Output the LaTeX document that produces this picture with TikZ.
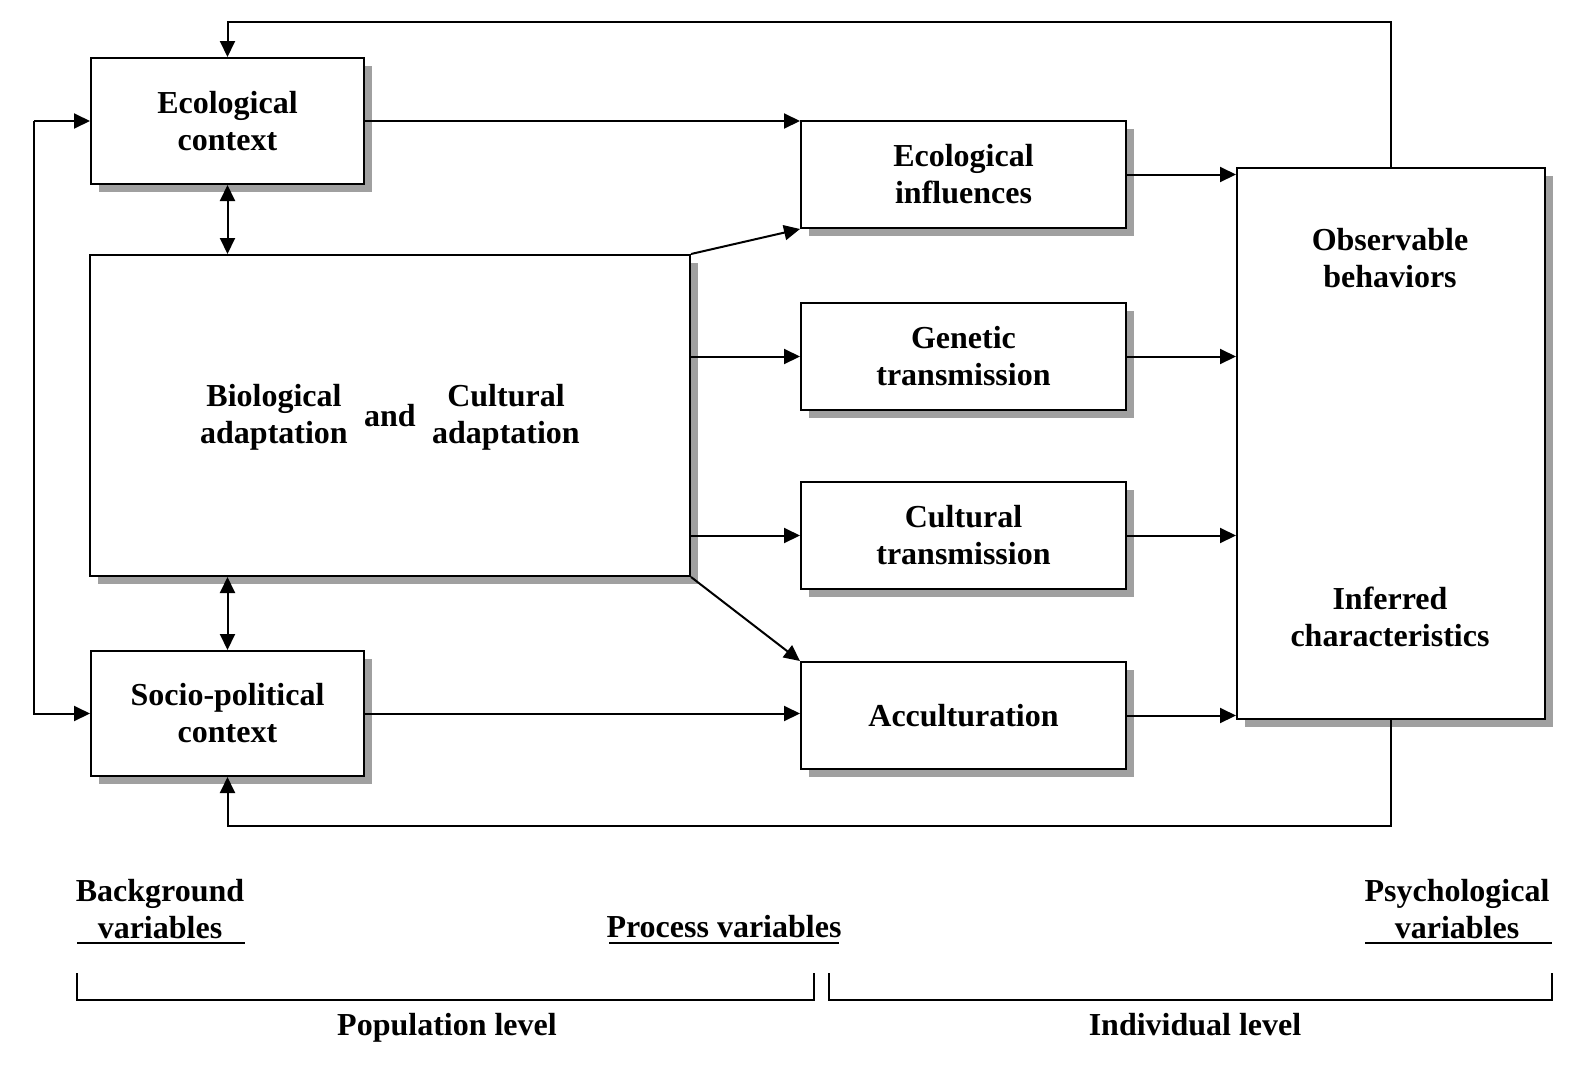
\documentclass[tikz,border=0pt]{standalone}
\usepackage{fontspec}
\setmainfont{Liberation Serif}
\usetikzlibrary{arrows.meta,shadows}
\definecolor{shadowgray}{RGB}{160,160,160}
\begin{document}
\begin{tikzpicture}[x=0.5pt,y=-0.5pt,
  font=\fontsize{16}{18.5}\selectfont\bfseries,
  box/.style={draw,line width=1pt,fill=white,inner sep=0pt,align=center,
    drop shadow={shadow xshift=4pt,shadow yshift=-4pt,opacity=1,fill=shadowgray}},
  arr/.style={line width=1pt,-{Triangle[length=8pt,width=7.5pt]}},
  arrr/.style={line width=1pt,{Triangle[length=8pt,width=7.5pt]}-{Triangle[length=8pt,width=7.5pt]}},
  txt/.style={align=center,inner sep=0pt},
  thin/.style={line width=1pt}]
\useasboundingbox (0,0) rectangle (1596,1082);
% boxes
\node[box,minimum width=136.5pt,minimum height=63pt] (ecoc) at (227.5,121) {Ecological\\context};
\node[box,minimum width=300pt,minimum height=160.5pt] (bio) at (390,415.5) {};
\node[box,minimum width=136.5pt,minimum height=62.5pt] (socio) at (227.5,713.5) {Socio-political\\context};
\node[box,minimum width=162.5pt,minimum height=53.5pt] (ecoi) at (963.5,174.5) {Ecological\\influences};
\node[box,minimum width=162.5pt,minimum height=53.5pt] (gen) at (963.5,356.5) {Genetic\\transmission};
\node[box,minimum width=162.5pt,minimum height=53.5pt] (cult) at (963.5,535.5) {Cultural\\transmission};
\node[box,minimum width=162.5pt,minimum height=53.5pt] (acc) at (963.5,715.5) {Acculturation};
\node[box,minimum width=154pt,minimum height=275.5pt] (psy) at (1391,443.5) {};
% texts inside
\node[txt] (biot) at (274,417) {Biological\\adaptation};
\node[txt] (andt) at (390,416) {and};
\node[txt] (cultt) at (506,417) {Cultural\\adaptation};
\node[txt] (obst) at (1390,258) {Observable\\behaviors};
\node[txt] (inft) at (1390,617) {Inferred\\characteristics};
% coordinates
\coordinate (top) at (0,22);
\coordinate (bot) at (0,826);
\coordinate (L) at (34,0);
% connectors
\draw[arr] (psy.north) -- (psy.north |- top) -| (ecoc.north);
\draw[arr] (ecoc.west -| L) -- (ecoc.west);
\draw[arr] (ecoc.west -| L) -- (socio.west -| L) -- (socio.west);
\draw[arr] (ecoc.east) -- (ecoc.east -| ecoi.west);
\draw[arrr] (ecoc.south) -- (ecoc.south |- bio.north);
\draw[arrr] (bio.south -| socio.north) -- (socio.north);
\draw[arr] (bio.north east) -- (ecoi.south west);
\draw[arr] (gen.west -| bio.east) -- (gen.west);
\draw[arr] (cult.west -| bio.east) -- (cult.west);
\draw[arr] (bio.south east) -- (acc.north west);
\draw[arr] (socio.east) -- (socio.east -| acc.west);
\draw[arr] (ecoi.east) -- (ecoi.east -| psy.west);
\draw[arr] (gen.east) -- (gen.east -| psy.west);
\draw[arr] (cult.east) -- (cult.east -| psy.west);
\draw[arr] (acc.east) -- (acc.east -| psy.west);
\draw[arr] (psy.south) -- (psy.south |- bot) -| (socio.south);
% bottom labels
\node[txt] (bg) at (160,909) {Background\\variables};
\node[txt,anchor=base] (pv) at (724,937) {Process variables};
\node[txt] (pq) at (1457,909) {Psychological\\variables};
\draw[thin] (77,943) -- (245,943);
\draw[thin] (609,943) -- (839,943);
\draw[thin] (1365,943) -- (1552,943);
\draw[thin] (77,973) -- (77,1000) -- (814,1000) -- (814,973);
\draw[thin] (829,973) -- (829,1000) -- (1552,1000) -- (1552,973);
\node[txt,anchor=base] (pop) at (447,1035) {Population level};
\node[txt,anchor=base] (ind) at (1195,1035) {Individual level};
\end{tikzpicture}
\end{document}
